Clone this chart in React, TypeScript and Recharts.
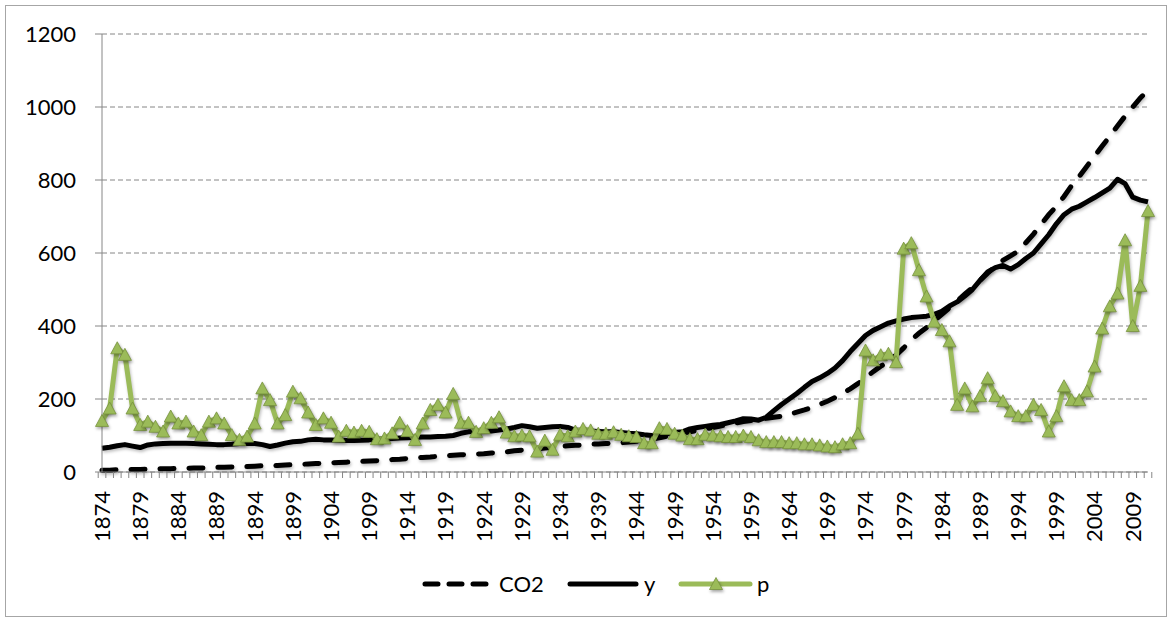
import React from 'react';
import { LineChart, Line, XAxis, YAxis, CartesianGrid, Legend } from 'recharts';

// ---- categories ----
const years = [
  1874, 1875, 1876, 1877, 1878, 1879, 1880, 1881, 1882, 1883, 1884, 1885, 1886, 1887, 1888, 1889, 1890, 1891, 1892, 1893,
  1894, 1895, 1896, 1897, 1898, 1899, 1900, 1901, 1902, 1903, 1904, 1905, 1906, 1907, 1908, 1909, 1910, 1911, 1912, 1913,
  1914, 1915, 1916, 1917, 1918, 1919, 1920, 1921, 1922, 1923, 1924, 1925, 1926, 1927, 1928, 1929, 1930, 1931, 1932, 1933,
  1934, 1935, 1936, 1937, 1938, 1939, 1940, 1941, 1942, 1943, 1944, 1945, 1946, 1947, 1948, 1949, 1950, 1951, 1952, 1953,
  1954, 1955, 1956, 1957, 1958, 1959, 1960, 1961, 1962, 1963, 1964, 1965, 1966, 1967, 1968, 1969, 1970, 1971, 1972, 1973,
  1974, 1975, 1976, 1977, 1978, 1979, 1980, 1981, 1982, 1983, 1984, 1985, 1986, 1987, 1988, 1989, 1990, 1991, 1992, 1993,
  1994, 1995, 1996, 1997, 1998, 1999, 2000, 2001, 2002, 2003, 2004, 2005, 2006, 2007, 2008, 2009, 2010, 2011,
];

// ---- series ----
const co2Values = [
  5, 5, 6, 6, 7, 7, 8, 8, 9, 9, 10, 10, 11, 11, 12, 13, 13, 14, 15, 15, 16, 17, 17, 18, 19, 20,
  21, 22, 23, 24, 25, 26, 27, 28, 29, 30, 31, 32, 34, 35, 37, 38, 40, 41, 43, 44, 46, 47, 48, 49, 50, 52, 53,
  55, 58, 60, 62, 64, 66, 68, 70, 72, 73, 74, 76, 77, 78, 79, 80, 82, 84, 87, 90, 94, 98, 102, 106, 110, 114, 118, 122,
  126, 130, 134, 138, 141, 144, 147, 150, 153, 158, 164, 170, 177, 185, 194, 204, 215, 228, 242, 258, 275, 290, 302, 320, 340, 362,
  380, 396, 414, 432, 450, 468, 487, 505, 525, 545, 563, 580, 592, 605, 628, 652, 678, 705, 728, 755, 785, 810, 838, 865, 893, 920,
  948, 975, 1000, 1025, 1045,
];

const yValues = [
  65, 68, 72, 75, 71, 67, 74, 77, 78, 79, 79, 79, 78, 77, 76, 75, 75, 76, 78, 79, 78, 75, 70, 74, 79, 83,
  84, 88, 90, 88, 88, 87, 86, 86, 87, 88, 90, 91, 92, 93, 94, 95, 96, 96, 97, 98, 100, 106, 110, 111, 111, 112, 115,
  118, 122, 127, 124, 120, 122, 124, 125, 122, 115, 113, 112, 111, 110, 110, 108, 106, 105, 102, 100, 102, 105, 108, 110, 118, 122, 125, 128,
  130, 135, 140, 146, 145, 142, 150, 168, 185, 200, 215, 232, 248, 258, 270, 285, 305, 330, 352, 374, 388, 398, 408, 414, 419, 423,
  425, 427, 432, 440, 455, 466, 482, 500, 525, 548, 560, 566, 556, 568, 585, 600, 625, 650, 680, 705, 720, 728, 740, 752, 765, 778,
  802, 790, 753, 745, 740,
];

const pValues = [
  140, 174, 339, 321, 174, 129, 138, 124, 111, 152, 133, 138, 111, 101, 138, 147, 133, 101, 88, 97, 133, 229, 197, 133, 156, 220,
  202, 163, 129, 147, 135, 97, 113, 108, 113, 110, 90, 92, 106, 135, 112, 88, 133, 170, 184, 163, 214, 135, 135, 110, 120, 135, 150,
  108, 98, 100, 98, 56, 86, 61, 102, 98, 111, 118, 114, 105, 105, 109, 102, 98, 96, 79, 79, 120, 118, 105, 100, 90, 90, 102, 100,
  98, 96, 96, 100, 96, 87, 82, 82, 82, 79, 79, 76, 76, 73, 70, 68, 76, 79, 105, 333, 306, 320, 324, 301, 612, 627,
  553, 481, 412, 389, 358, 184, 229, 180, 208, 257, 208, 194, 166, 153, 153, 184, 170, 111, 153, 235, 197, 197, 221, 289, 393, 454,
  489, 635, 400, 510, 715,
];

const yTicks = [0, 200, 400, 600, 800, 1000, 1200];
const seriesNames = ['CO2', 'y', 'p'];

const data = years.map((yr, i) => ({
  year: String(yr),
  CO2: co2Values[i],
  y: yValues[i],
  p: pValues[i],
}));

// ---- layout / style ----
const W = 1174;
const H = 624;
const MARGIN = { top: 34, right: 26, bottom: 25, left: 22 };
const Y_AXIS_W = 80;
const X_AXIS_H = 97;
const LEGEND_H = 30;
const PLOT_BOTTOM = H - MARGIN.bottom - LEGEND_H - X_AXIS_H;
const PLOT_W = W - MARGIN.left - MARGIN.right - Y_AXIS_W;
const BAND = PLOT_W / years.length;

const FONT = 'Lato, "Liberation Sans", sans-serif';
const FONT_SIZE = 22;
const GREEN = '#9BBB59';
const GREEN_DARK = '#76923C';
const GREY = '#868686';

function triPath(cx: number, cy: number, r: number) {
  return `M${cx},${cy - r} L${cx + r},${cy + r * 0.85} L${cx - r},${cy + r * 0.85} Z`;
}

function XTick(props: any) {
  const { x, payload, index } = props;
  const left = x - BAND / 2;
  const labelY = PLOT_BOTTOM + 19;
  return (
    <g>
      <line x1={left} x2={left} y1={PLOT_BOTTOM} y2={PLOT_BOTTOM + 6} stroke={GREY} strokeWidth={1} />
      {index === years.length - 1 ? (
        <line x1={x + BAND / 2} x2={x + BAND / 2} y1={PLOT_BOTTOM} y2={PLOT_BOTTOM + 6} stroke={GREY} strokeWidth={1} />
      ) : null}
      {index % 5 === 0 ? (
        <text
          x={x}
          y={labelY}
          dy="0.36em"
          textAnchor="end"
          transform={`rotate(-90, ${x}, ${labelY})`}
          fontSize={FONT_SIZE}
          fontFamily={FONT}
          fill="#000"
        >
          {payload.value}
        </text>
      ) : null}
    </g>
  );
}

function TriangleDot(props: any) {
  const { cx, cy, index } = props;
  if (cx == null || cy == null) return <g key={`d-${index}`} />;
  return (
    <path
      key={`d-${index}`}
      className="p-dot"
      d={triPath(cx, cy, 6.5)}
      fill={GREEN}
      stroke={GREEN_DARK}
      strokeWidth={0.8}
    />
  );
}

function LegendContent() {
  const cy = 15;
  const base = cy + 8;
  return (
    <div style={{ position: 'relative', width: W, height: LEGEND_H }}>
      <svg width={W} height={LEGEND_H} style={{ position: 'absolute', left: 0, top: 0 }}>
        <line x1={425} x2={486} y1={cy} y2={cy} stroke="#000" strokeWidth={5} strokeDasharray="13 11" strokeLinecap="round" />
        <text x={499} y={base} fontSize={FONT_SIZE} fontFamily={FONT} fill="#000">{seriesNames[0]}</text>
        <line x1={570} x2={636} y1={cy} y2={cy} stroke="#000" strokeWidth={5} strokeLinecap="round" />
        <text x={644} y={base} fontSize={FONT_SIZE} fontFamily={FONT} fill="#000">{seriesNames[1]}</text>
        <line x1={681} x2={750} y1={cy} y2={cy} stroke={GREEN} strokeWidth={5} strokeLinecap="round" />
        <path className="p-dot" d={triPath(716, cy, 6.5)} fill={GREEN} stroke={GREEN_DARK} strokeWidth={0.8} />
        <text x={757} y={base} fontSize={FONT_SIZE} fontFamily={FONT} fill="#000">{seriesNames[2]}</text>
      </svg>
    </div>
  );
}

export default function App() {
  return (
    <div style={{ position: 'absolute', left: 0, top: 0, width: W, height: H, background: '#fff' }}>
      <style>{`
        .p-dot { filter: drop-shadow(1.5px 2.5px 1.5px rgba(0,0,0,0.35)); }
        .shadow-line .recharts-line-curve { filter: drop-shadow(1px 2px 1.5px rgba(0,0,0,0.25)); }
      `}</style>
      <div
        style={{
          position: 'absolute',
          left: 5,
          top: 5,
          width: W - 12,
          height: H - 12,
          border: '1px solid #a6a6a6',
          boxSizing: 'border-box',
          pointerEvents: 'none',
        }}
      />
      <LineChart width={W} height={H} data={data} margin={MARGIN} style={{ fontFamily: FONT }}>
        <CartesianGrid horizontal vertical={false} stroke={GREY} strokeDasharray="5 3" />
        <XAxis
          dataKey="year"
          interval={0}
          tick={<XTick />}
          tickLine={false}
          axisLine={{ stroke: GREY, strokeWidth: 1 }}
          height={X_AXIS_H}
        />
        <YAxis
          domain={[0, 1200]}
          ticks={yTicks}
          interval={0}
          width={Y_AXIS_W}
          tickSize={7}
          tickMargin={19}
          axisLine={{ stroke: GREY, strokeWidth: 1 }}
          tickLine={{ stroke: GREY, strokeWidth: 1 }}
          tick={{ fontSize: FONT_SIZE, fill: '#000', fontFamily: FONT }}
        />
        <Legend
          verticalAlign="bottom"
          content={<LegendContent />}
          wrapperStyle={{ left: 0, width: W, height: LEGEND_H, bottom: MARGIN.bottom }}
        />
        <Line
          className="shadow-line"
          type="linear"
          dataKey="CO2"
          stroke="#000"
          strokeWidth={5}
          strokeDasharray="14 15"
          strokeLinecap="round"
          dot={false}
          activeDot={false}
          isAnimationActive={false}
        />
        <Line
          className="shadow-line"
          type="linear"
          dataKey="y"
          stroke="#000"
          strokeWidth={5}
          strokeLinejoin="round"
          dot={false}
          activeDot={false}
          isAnimationActive={false}
        />
        <Line
          className="shadow-line"
          type="linear"
          dataKey="p"
          stroke={GREEN}
          strokeWidth={5}
          strokeLinejoin="round"
          dot={<TriangleDot />}
          activeDot={false}
          isAnimationActive={false}
        />
      </LineChart>
    </div>
  );
}
